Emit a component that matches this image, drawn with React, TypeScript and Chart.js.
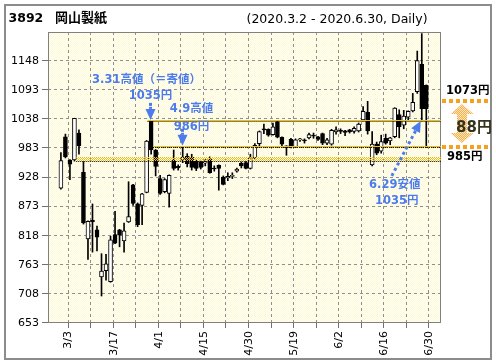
import React, { useEffect, useRef } from 'react';
import { Chart, registerables } from 'chart.js';
Chart.register(...registerables);

const titleCode = '3892';
const titleName = '岡山製紙';
const subtitle = '(2020.3.2 - 2020.6.30, Daily)';

const dates = ['3/2','3/3','3/4','3/5','3/6','3/9','3/10','3/11','3/12','3/13','3/16','3/17','3/18','3/19','3/23','3/24','3/25','3/26','3/27','3/30','3/31',
'4/1','4/2','4/3','4/6','4/7','4/8','4/9','4/10','4/13','4/14','4/15','4/16','4/17','4/20','4/21','4/22','4/23','4/24','4/27','4/28','4/30',
'5/1','5/7','5/8','5/11','5/12','5/13','5/14','5/15','5/18','5/19','5/20','5/21','5/22','5/25','5/26','5/27','5/28','5/29',
'6/1','6/2','6/3','6/4','6/5','6/8','6/9','6/10','6/11','6/12','6/15','6/16','6/17','6/18','6/19','6/22','6/23','6/24','6/25','6/26','6/29','6/30'];

const opens = [908,1005,961,961,1012,938,812,847,829,740,752,731,820,829,808,844,914,878,875,900,1035,
980,926,901,898,961,949,961,968,966,959,958,955,963,946,951,929,927,930,940,955,956,
945,965,992,1020,1019,1009,1033,1004,985,1000,986,999,999,1003,1008,1005,1011,993,
991,1014,1017,1016,1018,1015,1016,1037,1051,952,991,978,1002,997,1005,1047,1027,1042,1054,1090,1142,1102];
const highs = [975,1010,962,1040,1018,958,846,878,836,784,783,817,864,830,842,920,915,880,898,998,1035,
981,932,926,933,980,952,986,973,972,961,959,962,967,950,952,931,937,937,946,957,958,
972,992,1016,1029,1020,1031,1035,1005,988,1002,1001,1002,1001,1012,1012,1006,1012,1002,
1019,1024,1020,1017,1019,1024,1031,1062,1072,1015,995,1008,1010,1004,1060,1056,1055,1054,1087,1167,1200,1103];
const lows = [906,965,924,959,972,840,773,787,789,704,734,730,803,797,787,843,875,835,839,899,972,
931,896,899,872,942,942,956,948,942,941,944,950,936,940,904,914,922,926,938,946,944,
944,963,988,1011,1006,1008,1003,987,970,984,985,996,993,1001,1002,998,990,990,
989,1010,1011,1007,1012,1012,1014,1035,1010,950,971,974,991,990,1003,1003,1020,1036,1052,1087,1035,985];
const closes = [960,967,953,1040,988,842,845,844,815,751,765,810,804,819,827,854,879,839,897,997,980,
949,898,924,932,945,946,966,954,947,945,947,958,937,944,945,915,930,932,944,950,945,
965,989,1015,1018,1008,1024,1004,991,988,986,999,1001,997,1009,1006,1000,993,999,
1017,1018,1015,1013,1014,1021,1029,1053,1016,991,974,996,993,1003,1059,1024,1044,1053,1070,1149,1058,1058];

const yTicks = [653, 708, 763, 818, 873, 928, 983, 1038, 1093, 1148];
const xGridIdx = [1, 6, 11, 16, 21, 26, 31, 36, 41, 46, 51, 56, 61, 66, 71, 76, 81];
const xLabelIdx = [1, 11, 21, 31, 41, 51, 61, 71, 81];

// reference levels
const lineLevels = [1035, 986];
const lineStartIdx = [19.2, 20.4];
const bandLevel = 963;
const bandDotLevel = 959;
const bandStartIdx = 3.4;
const rightLevels = [1073, 985];
const rightLabels = ['1073円', '985円'];
const diffLabel = '88円';

// notes
const noteIdx = [20, 27];
const notePrice = [1035, 986];
const noteText = [['3.31高値（＝寄値）', '1035円'], ['4.9高値', '986円']];
const lowNoteIdx = 80;
const lowNotePrice = 1035;
const lowNoteText = ['6.29安値', '1035円'];

const BLUE = '#4b7bec';
const ORANGE = '#f6a01e';

function pat(ctx: CanvasRenderingContext2D, c1: string | null, c2: string | null) {
  const p = document.createElement('canvas');
  p.width = 2; p.height = 2;
  const g = p.getContext('2d')!;
  if (c1) { g.fillStyle = c1; g.fillRect(0, 0, 2, 2); }
  if (c2) { g.fillStyle = c2; g.fillRect(0, 0, 1, 1); g.fillRect(1, 1, 1, 1); } else { g.clearRect(0, 0, 1, 1); g.clearRect(1, 1, 1, 1); }
  return ctx.createPattern(p, 'repeat')!;
}

function drawGrid(chart: any) {
  const { ctx, chartArea: a } = chart;
  const xs = chart.scales.x, ys = chart.scales.y;
  ctx.save();
  ctx.lineWidth = 1;
  ctx.strokeStyle = '#8f8f8f';
  ctx.setLineDash([3, 3]);
  xGridIdx.forEach((i) => {
    const x = Math.round(xs.getPixelForValue(i + 0.7)) - 0.5;
    ctx.beginPath(); ctx.moveTo(x, a.top); ctx.lineTo(x, a.bottom); ctx.stroke();
  });
  yTicks.forEach((v) => {
    const y = Math.round(ys.getPixelForValue(v)) - 0.5;
    ctx.beginPath(); ctx.moveTo(a.left, y); ctx.lineTo(a.right, y); ctx.stroke();
  });
  ctx.setLineDash([]);
  ctx.strokeStyle = '#707070';
  xGridIdx.forEach((i) => {
    const x = Math.round(xs.getPixelForValue(i + 0.7)) - 0.5;
    ctx.beginPath(); ctx.moveTo(x, a.bottom); ctx.lineTo(x, a.bottom + 5); ctx.stroke();
  });
  yTicks.forEach((v) => {
    const y = Math.round(ys.getPixelForValue(v)) - 0.5;
    ctx.beginPath(); ctx.moveTo(a.left - 6, y); ctx.lineTo(a.left, y); ctx.stroke();
  });
  ctx.strokeStyle = '#808080';
  ctx.strokeRect(a.left + 0.5, a.top + 0.5, a.right - a.left - 1, a.bottom - a.top - 1);
  ctx.restore();
}

const deco = {
  id: 'deco',
  beforeDraw(chart: any) {
    const { ctx, chartArea: a, width, height } = chart;
    ctx.save();
    ctx.fillStyle = '#ffffff';
    ctx.fillRect(0, 0, width, height);
    ctx.fillStyle = pat(ctx, '#fffacd', '#ffffff');
    ctx.fillRect(a.left, a.top, a.right - a.left, a.bottom - a.top);
    ctx.restore();
    drawGrid(chart);
  },
  afterDatasetsDraw(chart: any) {
    const { ctx, chartArea: a } = chart;
    const xs = chart.scales.x, ys = chart.scales.y;
    ctx.save();
    ctx.beginPath();
    ctx.rect(a.left, a.top, a.right - a.left, a.bottom - a.top);
    ctx.clip();
    // band
    const bx = xs.getPixelForValue(bandStartIdx);
    const by = Math.round(ys.getPixelForValue(bandLevel));
    ctx.fillStyle = pat(ctx, '#f0c000', null);
    ctx.fillRect(bx, by - 2, a.right - bx, 4);
    const bdy = Math.round(ys.getPixelForValue(bandDotLevel));
    ctx.strokeStyle = '#000'; ctx.lineWidth = 1; ctx.setLineDash([1, 1]);
    ctx.beginPath(); ctx.moveTo(bx, bdy + 0.5); ctx.lineTo(a.right, bdy + 0.5); ctx.stroke();
    // level lines
    lineLevels.forEach((v, k) => {
      const x0 = xs.getPixelForValue(lineStartIdx[k]);
      const y = Math.round(ys.getPixelForValue(v));
      ctx.setLineDash([]);
      ctx.strokeStyle = '#f2c200';
      ctx.beginPath(); ctx.moveTo(x0, y - 0.5); ctx.lineTo(a.right, y - 0.5); ctx.stroke();
      ctx.setLineDash([1, 1]);
      ctx.strokeStyle = '#000';
      ctx.beginPath(); ctx.moveTo(x0, y + 0.5); ctx.lineTo(a.right, y + 0.5); ctx.stroke();
    });
    ctx.restore();

    // notes with down arrows
    ctx.save();
    ctx.fillStyle = BLUE;
    ctx.font = 'bold 11.5px "DejaVu Sans", "Noto Sans CJK JP", sans-serif';
    ctx.textAlign = 'center';
    ctx.textBaseline = 'middle';
    const textOff = [[[-4, -40], [0, -24]], [[9, -37], [9, -19]]];
    noteIdx.forEach((idx, k) => {
      const tx = Math.round(xs.getPixelForValue(idx)) - 0.5;
      const ty = ys.getPixelForValue(notePrice[k]) - 1;
      ctx.beginPath();
      ctx.moveTo(tx - 5, ty - 11); ctx.lineTo(tx + 5, ty - 11); ctx.lineTo(tx, ty); ctx.closePath();
      ctx.fill();
      ctx.fillRect(tx - 1.5, ty - 17, 3, 3);
      ctx.fillRect(tx - 1.5, ty - 13, 3, 2);
      noteText[k].forEach((t, j) => {
        ctx.fillText(t, tx + textOff[k][j][0], ty + textOff[k][j][1]);
      });
    });
    // low note with dotted diagonal arrow
    const lx = xs.getPixelForValue(lowNoteIdx) - 1;
    const ly = ys.getPixelForValue(lowNotePrice);
    const sx = lx - 29, sy = ly + 55;
    const dx = lx - sx, dy = ly - sy, len = Math.hypot(dx, dy);
    const ux = dx / len, uy = dy / len;
    const hl = 11, hw = 5;
    const bxh = lx - ux * hl, byh = ly - uy * hl;
    ctx.strokeStyle = BLUE; ctx.lineWidth = 3; ctx.setLineDash([3, 3]);
    ctx.beginPath(); ctx.moveTo(sx, sy); ctx.lineTo(bxh, byh); ctx.stroke();
    ctx.setLineDash([]);
    ctx.beginPath();
    ctx.moveTo(lx, ly);
    ctx.lineTo(bxh - uy * hw, byh + ux * hw);
    ctx.lineTo(bxh + uy * hw, byh - ux * hw);
    ctx.closePath(); ctx.fill();
    ctx.fillText(lowNoteText[0], lx - 26, ly + 64);
    ctx.fillText(lowNoteText[1], lx - 24, ly + 80);
    ctx.restore();
  },
  afterDraw(chart: any) {
    const { ctx, chartArea: a } = chart;
    const ys = chart.scales.y;
    ctx.save();
    // outer frame
    ctx.strokeStyle = '#8c8c8c'; ctx.lineWidth = 2;
    ctx.strokeRect(5, 5, 486, 354);
    // title
    ctx.fillStyle = '#000';
    ctx.textBaseline = 'alphabetic';
    ctx.textAlign = 'left';
    ctx.font = 'bold 12.5px "DejaVu Sans", sans-serif';
    ctx.fillText(titleCode, 8.5, 21.5);
    ctx.font = 'bold 13px "Noto Sans CJK JP", sans-serif';
    ctx.fillText(titleName, 55, 21.5);
    ctx.font = '12.5px "DejaVu Sans", sans-serif';
    ctx.fillText(subtitle, 246.5, 23);
    // right panel
    const y1 = Math.round(ys.getPixelForValue(rightLevels[0]));
    const y2 = Math.round(ys.getPixelForValue(rightLevels[1]));
    const cx = 462;
    const top = y1 + 3, bot = y2 - 4;
    ctx.fillStyle = pat(ctx, '#f8b048', '#fde6c0');
    ctx.beginPath();
    ctx.moveTo(cx, top); ctx.lineTo(cx + 11.5, top + 10); ctx.lineTo(cx + 5, top + 10);
    ctx.lineTo(cx + 5, bot - 10); ctx.lineTo(cx + 11.5, bot - 10); ctx.lineTo(cx, bot);
    ctx.lineTo(cx - 11.5, bot - 10); ctx.lineTo(cx - 5, bot - 10); ctx.lineTo(cx - 5, top + 10);
    ctx.lineTo(cx - 11.5, top + 10); ctx.closePath(); ctx.fill();
    ctx.strokeStyle = ORANGE; ctx.lineWidth = 4; ctx.setLineDash([4, 3]);
    [y1, y2].forEach((y) => {
      ctx.beginPath(); ctx.moveTo(a.right + 1, y); ctx.lineTo(491, y); ctx.stroke();
    });
    ctx.setLineDash([]);
    ctx.fillStyle = '#000';
    ctx.textBaseline = 'middle';
    ctx.font = 'bold 11.5px "DejaVu Sans", "Noto Sans CJK JP", sans-serif';
    ctx.fillText(rightLabels[0], 446, y1 - 10);
    ctx.fillText(rightLabels[1], 447, y2 + 10);
    ctx.font = 'bold 15px "DejaVu Sans", "Noto Sans CJK JP", sans-serif';
    ctx.fillStyle = '#34341c';
    ctx.textAlign = 'center';
    ctx.fillText(diffLabel, 474, (y1 + y2) / 2 + 4);
    ctx.restore();
  },
};

export default function App() {
  const ref = useRef<HTMLCanvasElement | null>(null);
  useEffect(() => {
    if (!ref.current) return;
    const axisFont = { family: '"DejaVu Sans", sans-serif', size: 11 };
    const chart = new Chart(ref.current, {
      type: 'bar',
      data: {
        datasets: [
          {
            label: 'body',
            data: dates.map((_, i) => ({ x: i, y: [opens[i], closes[i]] })) as any,
            backgroundColor: dates.map((_, i) => (closes[i] >= opens[i] ? '#ffffff' : '#000000')),
            borderColor: '#000000',
            borderWidth: 1,
            borderSkipped: false,
            barThickness: 4,
            grouped: false,
            order: 0,
          } as any,
          {
            label: 'wick',
            data: dates.map((_, i) => ({ x: i, y: [lows[i], highs[i]] })) as any,
            backgroundColor: '#000000',
            borderWidth: 0,
            barThickness: 1,
            grouped: false,
            order: 1,
          } as any,
        ],
      },
      options: {
        animation: false,
        responsive: false,
        devicePixelRatio: 1,
        layout: { padding: { top: 32, right: 55, bottom: 0, left: 0 } },
        plugins: { legend: { display: false }, tooltip: { enabled: false } },
        scales: {
          x: {
            type: 'linear',
            min: -0.3,
            max: 81.7,
            afterBuildTicks: (s: any) => { s.ticks = xGridIdx.map((i) => ({ value: i + 0.7 })); },
            afterFit: (s: any) => { s.height = 41; },
            ticks: {
              autoSkip: false,
              minRotation: 90,
              maxRotation: 90,
              padding: 3,
              color: '#000',
              font: axisFont,
              callback: (v: any) => {
                const i = Math.round(Number(v) - 0.7);
                return xLabelIdx.includes(i) ? dates[i] : '';
              },
            },
            grid: { display: true, drawOnChartArea: false, tickLength: 5, tickColor: 'rgba(0,0,0,0)' },
            border: { display: false },
          },
          y: {
            type: 'linear',
            min: 653,
            max: 1203,
            afterBuildTicks: (s: any) => { s.ticks = yTicks.map((v) => ({ value: v })); },
            afterFit: (s: any) => { s.width = 48; },
            ticks: {
              padding: 3,
              color: '#000',
              font: axisFont,
              callback: (v: any) => String(v),
            },
            grid: { display: true, drawOnChartArea: false, tickLength: 6, tickColor: 'rgba(0,0,0,0)' },
            border: { display: false },
          },
        },
      } as any,
      plugins: [deco as any],
    });
    return () => chart.destroy();
  }, []);
  return (
    <div style={{ position: 'absolute', left: 0, top: 0, width: 496, height: 364 }}>
      <canvas ref={ref} width={496} height={364} style={{ display: 'block' }} />
    </div>
  );
}
